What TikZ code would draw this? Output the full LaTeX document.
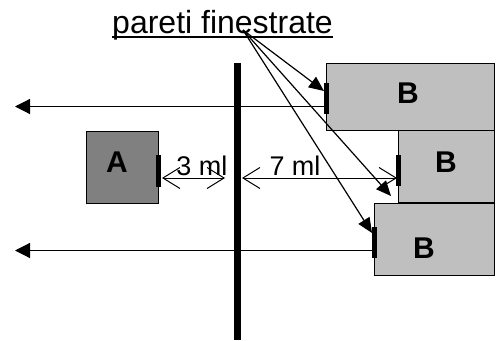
\documentclass[tikz,border=0pt]{standalone}
\usepackage{fontspec}
\setmainfont{Liberation Sans}
\usetikzlibrary{arrows.meta}
\definecolor{roomA}{gray}{0.5}
\definecolor{roomB}{gray}{0.75}
\tikzset{
  x=1pt,y=-1pt,
  room/.style={draw=black,line width=1.2pt,inner sep=0pt,anchor=north west,fill=#1},
  window/.style={fill=black,inner sep=0pt,minimum width=5pt},
  letter/.style={font=\bfseries\fontsize{30}{30}\selectfont,inner sep=0pt,anchor=base},
  dim/.style={font=\fontsize{27}{27}\selectfont,inner sep=0pt,anchor=base},
  road/.style={line width=1.2pt,-{Triangle[length=15pt,width=15pt]}},
  leader/.style={line width=1.2pt,-{Triangle[length=15pt,width=13pt]}},
  span/.style={line width=1pt,{Straight Barb[length=17pt,width=21pt,line width=1pt]}-{Straight Barb[length=17pt,width=21pt,line width=1pt]}}
}
\begin{document}
\begin{tikzpicture}
\useasboundingbox (0,0) rectangle (497,340);
\node[room=roomA,minimum width=72pt,minimum height=72pt] (A) at (86,130.5) {};
\node[room=roomB,minimum width=168pt,minimum height=67pt] (B1) at (326,63) {};
\node[room=roomB,minimum width=96pt,minimum height=72pt] (B2) at (398,130) {};
\node[room=roomB,minimum width=120pt,minimum height=72pt] (B3) at (374,202.5) {};
\node[fill=black,inner sep=0pt,minimum width=7pt,minimum height=277pt,anchor=north] (wall) at (237.5,63) {};
\coordinate (r1) at (15,106.5);
\coordinate (r2) at (15,250.5);
\node[window,minimum height=32pt] (wA) at (158,171) {};
\node[window,minimum height=31pt] (w1) at (326.5,98) {};
\node[window,minimum height=31pt] (w2) at (398.5,170.5) {};
\node[window,minimum height=31pt] (w3) at (374.5,242.5) {};
\draw[road] (w1.center |- r1) -- (r1);
\draw[road] (w3.center |- r2) -- (r2);
\node[letter] at (117,172) {A};
\node[letter] at (408,103) {B};
\node[letter] at (446,172) {B};
\node[letter] at (424,258) {B};
\node[font=\fontsize{32}{32}\selectfont,inner sep=0pt,anchor=base] (title) at (222.5,33) {pareti finestrate};
\draw[line width=1.8pt] ([yshift=-3.7pt]title.base west) -- ([yshift=-3.7pt]title.base east);
\coordinate (fan) at (243,30);
\draw[leader] (fan) -- (324,91);
\draw[leader] (fan) -- (391,196);
\draw[leader] (fan) -- (372,233);
\coordinate (d1) at (162,178);
\coordinate (d2) at (225,178);
\coordinate (d3) at (242,178);
\coordinate (d4) at (397,178);
\draw[span] (d1) -- (d2);
\draw[span] (d3) -- (d4);
\node[dim] at (202,175) {3 ml};
\node[dim] at (295,175) {7 ml};
\end{tikzpicture}
\end{document}
